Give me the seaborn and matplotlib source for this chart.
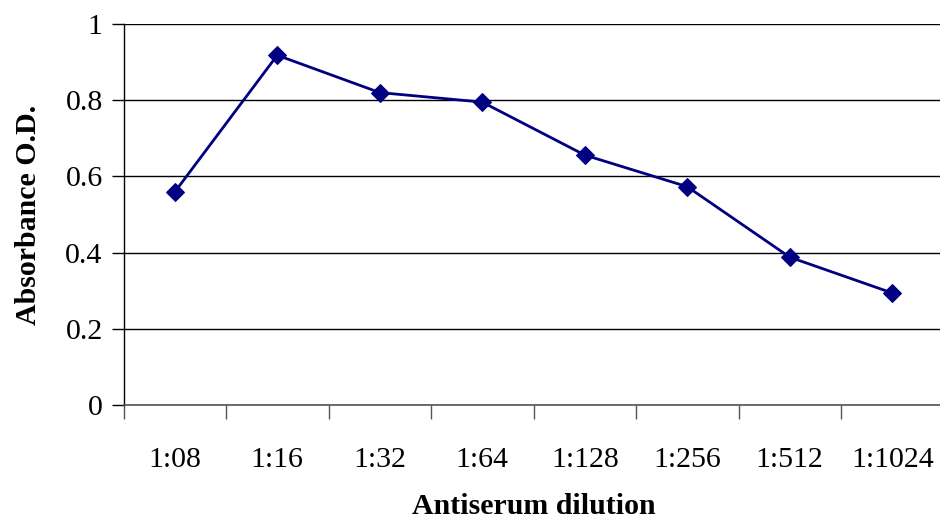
import matplotlib
matplotlib.use("Agg")
import matplotlib.pyplot as plt
import seaborn as sns
import pandas as pd
import numpy as np

dilutions = ["1:08", "1:16", "1:32", "1:64", "1:128", "1:256", "1:512", "1:1024"]
absorbance = [0.559, 0.918, 0.820, 0.795, 0.656, 0.573, 0.388, 0.294]
yticks = [0, 0.2, 0.4, 0.6, 0.8, 1]
ytick_labels = ["0", "0.2", "0.4", "0.6", "0.8", "1"]

sns.set_style("white")
plt.rcParams["font.family"] = ["Liberation Serif", "DejaVu Serif"]
plt.rcParams["text.color"] = "black"
plt.rcParams["axes.labelcolor"] = "black"
plt.rcParams["xtick.color"] = "black"
plt.rcParams["ytick.color"] = "black"

W, H = 940, 522
fig = plt.figure(figsize=(W / 100, H / 100), dpi=100)
left, right, top, bottom = 123.5, 943.5, 24, 405
ax = fig.add_axes([left / W, 1 - bottom / H, (right - left) / W, (bottom - top) / H])

df = pd.DataFrame({"dilution": dilutions, "absorbance": absorbance})
df["pos"] = np.arange(len(dilutions))
sns.lineplot(data=df, x="pos", y="absorbance", ax=ax, color="#000080",
             linewidth=2, marker="D", markersize=9.5, markeredgecolor="#000080",
             zorder=5)

ax.set_xlim(-0.5, len(dilutions) - 0.5)
ax.set_ylim(0, 1)
ax.set_yticks(yticks)
ax.set_yticklabels(ytick_labels, fontsize=21.5, color="black")
ax.yaxis.grid(True, color="black", linewidth=1)
ax.set_axisbelow(True)

# category labels at centers, tick marks at boundaries
ax.set_xticks(np.arange(len(dilutions)))
ax.set_xticklabels(dilutions, fontsize=21.5, color="black")
ax.tick_params(axis="x", which="major", length=0, pad=30)
ax.set_xticks(np.arange(len(dilutions) + 1) - 0.5, minor=True)
ax.tick_params(axis="x", which="minor", length=10, width=1, color="#555555",
               direction="out", bottom=True)
ax.tick_params(axis="y", which="major", length=9, width=1, color="black",
               direction="out", left=True, pad=6)

for s in ["top", "right"]:
    ax.spines[s].set_visible(False)
ax.spines["left"].set_color("black")
ax.spines["left"].set_linewidth(1)
ax.spines["bottom"].set_color("#555555")
ax.spines["bottom"].set_linewidth(1.2)

ax.set_xlabel("Antiserum dilution", fontsize=21.5, fontweight="bold", labelpad=15,
              color="black")
ax.set_ylabel("Absorbance O.D.", fontsize=21.5, fontweight="bold", labelpad=17,
              color="black")

fig.savefig("out.png", dpi=100)
